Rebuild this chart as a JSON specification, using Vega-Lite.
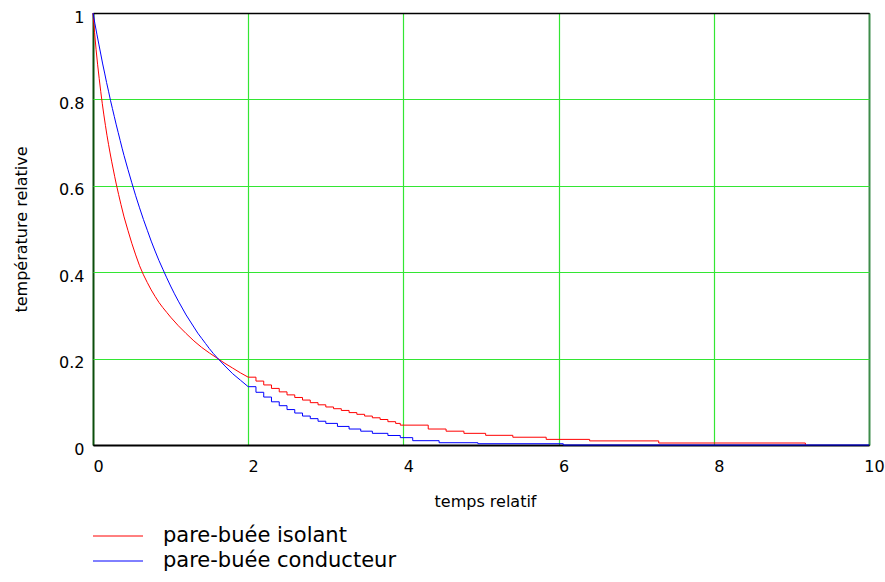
{
  "$schema": "https://vega.github.io/schema/vega-lite/v6.json",
  "width": 776,
  "height": 432,
  "autosize": {"type": "none"},
  "padding": {"left": 93, "top": 13, "right": 16, "bottom": 137},
  "background": "#ffffff",
  "config": {
    "view": {"stroke": "#000000", "strokeWidth": 1},
    "font": "DejaVu Sans",
    "axis": {"labelFont": "DejaVu Sans", "titleFont": "DejaVu Sans", "labelColor": "#000000", "titleColor": "#000000", "titleFontWeight": "normal"},
    "legend": {"labelFont": "DejaVu Sans"}
  },
  "data": {
    "values": [
      {"s": "pare-buée isolant", "t": 0, "y": 1.0},
      {"s": "pare-buée isolant", "t": 0.01, "y": 0.976},
      {"s": "pare-buée isolant", "t": 0.02, "y": 0.955},
      {"s": "pare-buée isolant", "t": 0.04, "y": 0.915},
      {"s": "pare-buée isolant", "t": 0.06, "y": 0.88},
      {"s": "pare-buée isolant", "t": 0.08, "y": 0.848},
      {"s": "pare-buée isolant", "t": 0.10, "y": 0.818},
      {"s": "pare-buée isolant", "t": 0.12, "y": 0.79},
      {"s": "pare-buée isolant", "t": 0.14, "y": 0.764},
      {"s": "pare-buée isolant", "t": 0.16, "y": 0.74},
      {"s": "pare-buée isolant", "t": 0.18, "y": 0.717},
      {"s": "pare-buée isolant", "t": 0.20, "y": 0.696},
      {"s": "pare-buée isolant", "t": 0.22, "y": 0.676},
      {"s": "pare-buée isolant", "t": 0.24, "y": 0.657},
      {"s": "pare-buée isolant", "t": 0.26, "y": 0.639},
      {"s": "pare-buée isolant", "t": 0.28, "y": 0.621},
      {"s": "pare-buée isolant", "t": 0.30, "y": 0.604},
      {"s": "pare-buée isolant", "t": 0.33, "y": 0.58},
      {"s": "pare-buée isolant", "t": 0.36, "y": 0.557},
      {"s": "pare-buée isolant", "t": 0.40, "y": 0.528},
      {"s": "pare-buée isolant", "t": 0.45, "y": 0.497},
      {"s": "pare-buée isolant", "t": 0.50, "y": 0.467},
      {"s": "pare-buée isolant", "t": 0.55, "y": 0.44},
      {"s": "pare-buée isolant", "t": 0.60, "y": 0.415},
      {"s": "pare-buée isolant", "t": 0.65, "y": 0.394},
      {"s": "pare-buée isolant", "t": 0.70, "y": 0.376},
      {"s": "pare-buée isolant", "t": 0.75, "y": 0.359},
      {"s": "pare-buée isolant", "t": 0.80, "y": 0.344},
      {"s": "pare-buée isolant", "t": 0.85, "y": 0.33},
      {"s": "pare-buée isolant", "t": 0.90, "y": 0.318},
      {"s": "pare-buée isolant", "t": 0.95, "y": 0.307},
      {"s": "pare-buée isolant", "t": 1.00, "y": 0.296},
      {"s": "pare-buée isolant", "t": 1.10, "y": 0.276},
      {"s": "pare-buée isolant", "t": 1.20, "y": 0.258},
      {"s": "pare-buée isolant", "t": 1.30, "y": 0.241},
      {"s": "pare-buée isolant", "t": 1.40, "y": 0.226},
      {"s": "pare-buée isolant", "t": 1.50, "y": 0.213},
      {"s": "pare-buée isolant", "t": 1.60, "y": 0.201},
      {"s": "pare-buée isolant", "t": 1.70, "y": 0.189},
      {"s": "pare-buée isolant", "t": 1.80, "y": 0.178},
      {"s": "pare-buée isolant", "t": 1.90, "y": 0.167},
      {"s": "pare-buée isolant", "t": 2.00, "y": 0.157},
      {"s": "pare-buée isolant", "t": 2.10, "y": 0.148},
      {"s": "pare-buée isolant", "t": 2.20, "y": 0.139},
      {"s": "pare-buée isolant", "t": 2.30, "y": 0.131},
      {"s": "pare-buée isolant", "t": 2.40, "y": 0.123},
      {"s": "pare-buée isolant", "t": 2.50, "y": 0.116},
      {"s": "pare-buée isolant", "t": 2.60, "y": 0.11},
      {"s": "pare-buée isolant", "t": 2.70, "y": 0.104},
      {"s": "pare-buée isolant", "t": 2.80, "y": 0.098},
      {"s": "pare-buée isolant", "t": 2.90, "y": 0.093},
      {"s": "pare-buée isolant", "t": 3.00, "y": 0.088},
      {"s": "pare-buée isolant", "t": 3.10, "y": 0.084},
      {"s": "pare-buée isolant", "t": 3.20, "y": 0.08},
      {"s": "pare-buée isolant", "t": 3.30, "y": 0.075},
      {"s": "pare-buée isolant", "t": 3.40, "y": 0.071},
      {"s": "pare-buée isolant", "t": 3.50, "y": 0.067},
      {"s": "pare-buée isolant", "t": 3.60, "y": 0.063},
      {"s": "pare-buée isolant", "t": 3.70, "y": 0.059},
      {"s": "pare-buée isolant", "t": 3.80, "y": 0.054},
      {"s": "pare-buée isolant", "t": 3.90, "y": 0.05},
      {"s": "pare-buée isolant", "t": 3.96, "y": 0.046},
      {"s": "pare-buée isolant", "t": 4.32, "y": 0.037},
      {"s": "pare-buée isolant", "t": 4.55, "y": 0.032},
      {"s": "pare-buée isolant", "t": 4.78, "y": 0.027},
      {"s": "pare-buée isolant", "t": 5.06, "y": 0.0224},
      {"s": "pare-buée isolant", "t": 5.41, "y": 0.018},
      {"s": "pare-buée isolant", "t": 5.84, "y": 0.013},
      {"s": "pare-buée isolant", "t": 6.40, "y": 0.0095},
      {"s": "pare-buée isolant", "t": 7.29, "y": 0.0046},
      {"s": "pare-buée isolant", "t": 9.18, "y": 0},
      {"s": "pare-buée conducteur", "t": 0, "y": 1.0},
      {"s": "pare-buée conducteur", "t": 0.025, "y": 0.975},
      {"s": "pare-buée conducteur", "t": 0.05, "y": 0.951},
      {"s": "pare-buée conducteur", "t": 0.075, "y": 0.928},
      {"s": "pare-buée conducteur", "t": 0.1, "y": 0.905},
      {"s": "pare-buée conducteur", "t": 0.125, "y": 0.882},
      {"s": "pare-buée conducteur", "t": 0.15, "y": 0.861},
      {"s": "pare-buée conducteur", "t": 0.175, "y": 0.839},
      {"s": "pare-buée conducteur", "t": 0.2, "y": 0.819},
      {"s": "pare-buée conducteur", "t": 0.225, "y": 0.798},
      {"s": "pare-buée conducteur", "t": 0.25, "y": 0.779},
      {"s": "pare-buée conducteur", "t": 0.275, "y": 0.76},
      {"s": "pare-buée conducteur", "t": 0.3, "y": 0.741},
      {"s": "pare-buée conducteur", "t": 0.325, "y": 0.723},
      {"s": "pare-buée conducteur", "t": 0.35, "y": 0.705},
      {"s": "pare-buée conducteur", "t": 0.375, "y": 0.687},
      {"s": "pare-buée conducteur", "t": 0.4, "y": 0.67},
      {"s": "pare-buée conducteur", "t": 0.45, "y": 0.638},
      {"s": "pare-buée conducteur", "t": 0.5, "y": 0.607},
      {"s": "pare-buée conducteur", "t": 0.55, "y": 0.577},
      {"s": "pare-buée conducteur", "t": 0.6, "y": 0.549},
      {"s": "pare-buée conducteur", "t": 0.65, "y": 0.522},
      {"s": "pare-buée conducteur", "t": 0.7, "y": 0.497},
      {"s": "pare-buée conducteur", "t": 0.75, "y": 0.472},
      {"s": "pare-buée conducteur", "t": 0.8, "y": 0.449},
      {"s": "pare-buée conducteur", "t": 0.85, "y": 0.427},
      {"s": "pare-buée conducteur", "t": 0.9, "y": 0.407},
      {"s": "pare-buée conducteur", "t": 0.95, "y": 0.387},
      {"s": "pare-buée conducteur", "t": 1.0, "y": 0.368},
      {"s": "pare-buée conducteur", "t": 1.05, "y": 0.35},
      {"s": "pare-buée conducteur", "t": 1.1, "y": 0.333},
      {"s": "pare-buée conducteur", "t": 1.15, "y": 0.317},
      {"s": "pare-buée conducteur", "t": 1.2, "y": 0.301},
      {"s": "pare-buée conducteur", "t": 1.25, "y": 0.287},
      {"s": "pare-buée conducteur", "t": 1.3, "y": 0.273},
      {"s": "pare-buée conducteur", "t": 1.35, "y": 0.259},
      {"s": "pare-buée conducteur", "t": 1.4, "y": 0.247},
      {"s": "pare-buée conducteur", "t": 1.45, "y": 0.235},
      {"s": "pare-buée conducteur", "t": 1.5, "y": 0.223},
      {"s": "pare-buée conducteur", "t": 1.55, "y": 0.212},
      {"s": "pare-buée conducteur", "t": 1.6, "y": 0.202},
      {"s": "pare-buée conducteur", "t": 1.7, "y": 0.183},
      {"s": "pare-buée conducteur", "t": 1.8, "y": 0.165},
      {"s": "pare-buée conducteur", "t": 1.9, "y": 0.15},
      {"s": "pare-buée conducteur", "t": 2.0, "y": 0.135},
      {"s": "pare-buée conducteur", "t": 2.1, "y": 0.122},
      {"s": "pare-buée conducteur", "t": 2.2, "y": 0.111},
      {"s": "pare-buée conducteur", "t": 2.3, "y": 0.1},
      {"s": "pare-buée conducteur", "t": 2.4, "y": 0.091},
      {"s": "pare-buée conducteur", "t": 2.5, "y": 0.082},
      {"s": "pare-buée conducteur", "t": 2.6, "y": 0.074},
      {"s": "pare-buée conducteur", "t": 2.7, "y": 0.067},
      {"s": "pare-buée conducteur", "t": 2.8, "y": 0.061},
      {"s": "pare-buée conducteur", "t": 2.9, "y": 0.055},
      {"s": "pare-buée conducteur", "t": 3.0, "y": 0.05},
      {"s": "pare-buée conducteur", "t": 3.15, "y": 0.043},
      {"s": "pare-buée conducteur", "t": 3.3, "y": 0.037},
      {"s": "pare-buée conducteur", "t": 3.45, "y": 0.032},
      {"s": "pare-buée conducteur", "t": 3.6, "y": 0.027},
      {"s": "pare-buée conducteur", "t": 3.8, "y": 0.022},
      {"s": "pare-buée conducteur", "t": 3.96, "y": 0.017},
      {"s": "pare-buée conducteur", "t": 4.12, "y": 0.01},
      {"s": "pare-buée conducteur", "t": 4.46, "y": 0.0053},
      {"s": "pare-buée conducteur", "t": 4.96, "y": 0.003},
      {"s": "pare-buée conducteur", "t": 6.06, "y": 0},
      {"s": "pare-buée conducteur", "t": 10, "y": 0}
    ]
  },
  "encoding": {
    "x": {
      "field": "t", "type": "quantitative",
      "scale": {"domain": [0, 10], "nice": false, "zero": false},
      "axis": {
        "values": [0, 2, 4, 6, 8, 10],
        "format": "d",
        "title": "temps relatif",
        "titleFontSize": 16,
        "titleX": 392,
        "titleY": 56,
        "titleAlign": "center",
        "titleBaseline": "middle",
        "labelFontSize": 16,
        "labelPadding": 13,
        "labelOffset": 5,
        "labelFlush": false,
        "labelOverlap": false,
        "ticks": false,
        "domain": false,
        "grid": true,
        "gridColor": {"condition": [{"test": "datum.value === 0", "value": "#0b4f0b"}, {"test": "datum.value === 10", "value": "#3d8c4a"}], "value": "#33e633"},
        "gridWidth": {"condition": [{"test": "datum.value === 0", "value": 2}, {"test": "datum.value === 10", "value": 2}], "value": 1.2},
        "gridOpacity": 1
      }
    },
    "y": {
      "field": "y", "type": "quantitative",
      "scale": {"domain": [0, 1], "nice": false},
      "axis": {
        "values": [0, 0.2, 0.4, 0.6, 0.8, 1],
        "format": ".1~f",
        "title": "température relative",
        "titleFontSize": 16,
        "titleX": -72,
        "titleY": 216,
        "titleAngle": 270,
        "titleAlign": "center",
        "titleBaseline": "middle",
        "labelFontSize": 16,
        "labelPadding": 9,
        "labelOffset": 4,
        "labelBaseline": "middle",
        "labelFlush": false,
        "labelOverlap": false,
        "ticks": false,
        "domain": false,
        "grid": true,
        "gridColor": {"condition": [{"test": "datum.value === 0", "value": "#000000"}, {"test": "datum.value === 1", "value": "#000000"}], "value": "#33e633"},
        "gridWidth": {"condition": [{"test": "datum.value === 0", "value": 2}, {"test": "datum.value === 1", "value": 1.3}], "value": 1.2},
        "gridOpacity": 1
      }
    },
    "color": {
      "field": "s", "type": "nominal",
      "scale": {"domain": ["pare-buée isolant", "pare-buée conducteur"], "range": ["#ff0000", "#0000ff"]},
      "legend": {
        "title": null,
        "orient": "none",
        "legendX": 12,
        "legendY": 510,
        "padding": 0,
        "symbolType": "M-2,0H2",
        "symbolSize": 625,
        "symbolStrokeWidth": 1,
        "labelFont": "DejaVu Sans",
        "labelFontSize": 21,
        "labelColor": "#000000",
        "labelOffset": 32,
        "labelLimit": 400,
        "rowPadding": 2
      }
    }
  },
  "layer": [
    {
      "transform": [{"filter": "datum.t <= 2.0"}],
      "mark": {"type": "line", "interpolate": "linear", "strokeWidth": 1, "clip": false}
    },
    {
      "transform": [{"filter": "datum.t >= 2.0"}],
      "mark": {"type": "line", "interpolate": "step-after", "strokeWidth": 1, "clip": false}
    }
  ]
}
